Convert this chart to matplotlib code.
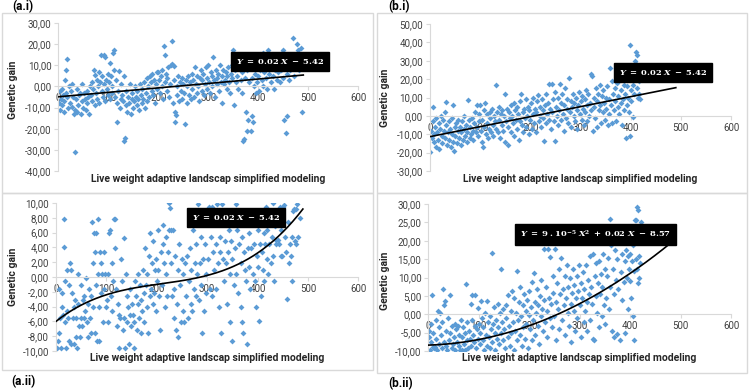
import numpy as np
import matplotlib
matplotlib.use('Agg')
import matplotlib.pyplot as plt
from matplotlib.patches import Rectangle

plt.rcParams['font.family'] = ['Liberation Sans Narrow', 'Roboto', 'DejaVu Sans']
plt.rcParams['mathtext.fontset'] = 'dejavuserif'

# (x, y) points
ai_points = [(2,-8),(3,-11),(4,-2),(5,-6),(7,-9),(8,-1),(10,-4),(11,-12),(12,-7),(14,3),(15,7.7),(16,-3),(17,13.2),(18,-5),(20,-10),(22,0),(24,-8),(25,-2),(27,1),(28,-9.5),(30,-5),(31,-13),(33,-11),(34,-31),(35,-6),(37,-12),(38,-1),(40,-9),(42,-4),(43,-3),(45,-13),(47,1),(48,-7),(50,-10),
    (52,-3),(53,-6),(55,-11),(57,-2),(58,-8),(60,-5),(62,-13),(63,0),(65,-4),(67,-7),(68,2),(70,-1),(72,7.7),(73,-9),(74,5.4),(75,-3),(77,3),(78,-6),(80,0),(81,7),(82,-8),(84,2),(86,14.8),(87,-2),(88,5),(90,-5),(91,15),(92,1),(93,14),(94,-7),(96,3),(97,-1),(99,6),
    (100,-4),(101,2),(103,11),(104,-6),(105,5),(107,0),(108,-3),(110,15.6),(111,17),(112,8),(113,-5),(115,3),(117,-16.7),(118,-8),(120,-2),(121,7.5),(123,-10),(125,-6),(126,1),(128,-4),(130,-7),(131,-25.9),(132,5),(134,-24.6),(135,-9),(136,-2),(138,-12),(140,-5),(142,-8),(143,1),(145,-13),(147,-6),(148,-3),(150,-10),
    (152,-7),(153,0),(155,-5),(157,-9),(158,-2),(160,-6),(162,-11),(163,1),(165,-4),(167,-8),(168,-1),(170,-6),(172,2),(173,-10),(175,-3),(177,4),(178,-7),(180,0),(182,-5),(183,5),(185,2),(187,-2),(188,6),(190,-4),(192,3),(193,-8),(195,1),(197,7),(198,-1),(200,7),
    (202,3),(203,-3),(205,5),(207,0),(208,8),(210,-6),(212,19.2),(213,14.8),(214,2),(215,6),(217,-2),(218,4),(220,9),(222,-5),(223,1),(225,10),(227,10.4),(228,21.5),(230,-8),(231,9.8),(232,3),(233,-16.7),(234,-12),(235,-13.6),(237,-4),(238,0),(240,5),(242,-7),(243,2),(245,-2),(247,4),(248,-6),(250,1),(253,-18),
    (252,-3),(255,3),(257,-8),(258,0),(260,5),(262,-4),(264,2),(265,-6),(267,6),(268,-1),(270,3),(272,-5),(273,9),(275,1),(277,-3),(278,5),(280,0),(282,-7),(283,4),(285,8),(287,-2),(288,3),(290,6),(292,-4),(293,1),(295,9),(297,-1),(298,4),(300,10),
    (302,2),(303,-3),(305,7),(307,0),(308,5),(310,14),(312,3),(313,-5),(315,8),(317,1),(318,4),(320,6),(322,-2),(323,10),(325,2),(327,-8),(328,5),(330,8),(332,1),(333,3),(335,7),(337,-1),(338,5),(340,9),(342,2),(343,-3),(345,6),(347,10),(348,4),(350,17),(352,-9),
    (353,8),(355,2),(357,12),(358,5),(360,-1),(362,9),(363,14),(365,3),(367,7),(368,-3),(370,-26),(372,-25),(373,4),(375,-12),(377,8),(378,-21),(380,-16),(382,2),(383,10),(385,-21),(387,-14),(388,4),(390,-17),(392,0),(393,6),(395,-3),(397,12),(398,2),(400,5),
    (402,-2),(404,8),(405,14),(407,3),(409,16),(410,0),(412,7),(414,10),(415,4),(417,-1),(419,13),(420,17),(422,6),(424,11),(425,2),(427,9),(429,14),(430,5),(432,-1),(434,8),(436,12),(437,3),(439,7),(440,15),(442,10),(444,2),(445,8),(447,16),(449,4),(450,17),(452,-16),(454,9),(455,-22),(457,-14),(458,6),(460,12),(462,3),(464,8),(466,15),(468,10),(470,23),(472,5),(474,12),(476,9),(478,20),(480,17),(482,8),(484,14),(485,18),(487,-12),(488,10)]

bi_points = [(0,-19.5),(2,-8),(3,-12),(5,-3),(6,5),(7,-14),(8,-10),(10,-6),(11,-17),(12,-1),(14,-9),(15,-13),(17,-4),(18,-18),(20,-7),(21,0),(23,-11),(24,-15),(26,-2),(27,-8),(29,-12),(30,2),(31,7.7),(32,-5),(34,-16),(35,-9),(37,-3),(38,-13),(40,-7),(41,-17),(43,-1),(44,-10),(45,5.9),(46,-14),(48,-19),(49,-6),(50,-11),
    (52,-4),(53,-15),(55,-8),(56,-2),(58,-12),(59,-6),(61,-16),(62,-9),(64,-3),(65,-13),(67,-7),(68,0),(70,-11),(71,-5),(73,-14),(74,-9),(76,8.6),(77,-2),(79,-12),(80,-6),(82,-10),(83,-1),(85,-8),(86,-13),(88,-4),(89,2),(91,-9),(93,5.9),(94,-6),(95,-11),(97,1),(98,-3),(100,5.9),
    (101,-8),(103,-14),(104,-2),(106,-17),(107,3),(108,-6),(110,6.8),(111,-10),(113,-4),(114,1),(116,-12),(117,-7),(119,2),(120,-1),(122,-9),(123,4),(125,-5),(126,-11),(128,0),(129,-3),(131,17),(132,-7),(134,2),(135,-9),(137,5),(138,-2),(140,-12),(141,1),(143,-5),(144,3),(146,-8),(147,0),(149,-14),(150,12),
    (152,-3),(153,4),(155,-16),(156,-6),(158,2),(159,-1),(161,6),(162,-9),(164,0),(165,-4),(167,7),(168,-11),(170,3),(171,-2),(173,-7),(174,5),(176,1),(177,-13),(179,-3),(180,8),(182,12),(183,-5),(185,2),(186,-9),(188,4),(189,-1),(191,9),(192,-6),(194,0),(195,5),(197,-10),(198,3),(200,-2),
    (202,7),(203,-7),(205,1),(206,10),(208,-4),(209,4),(211,-9),(212,2),(214,8),(216,11.3),(217,-3),(219,5),(220,0),(222,-6),(223,9),(225,3),(226,-1),(228,-13.7),(229,6),(231,-4),(232,12),(234,1),(235,7),(237,-2),(238,17.6),(240,4),(241,-7),(243,17.6),(244,2),(246,9),(247,-3),(249,13),(250,-13.7),
    (252,5),(253,0),(255,10),(256,-5),(258,3),(259,17.6),(261,7),(262,-2),(264,12),(265,1),(267,-8),(268,6),(270,15),(271,-1),(273,4),(274,9),(276,-4),(278,20.7),(279,2),(281,8),(282,-6),(284,5),(285,12),(287,0),(288,7),(290,-3),(291,10),(293,3),(294,-7),(296,6),(297,13),(299,1),(300,8),
    (302,-2),(303,11),(305,4),(306,-5),(308,9),(309,2),(310,14),(312,6),(313,-3),(315,12),(316,0),(318,7),(320,22.6),(321,3),(323,21.7),(324,-8),(326,10),(327,5),(329,-1),(330,15),(332,8),(333,-6),(335,12),(336,3),(338,17),(339,6),(341,-4),(342,11),(344,2),(345,14),(347,7),(348,-2),(350,10),
    (351,4),(353,16),(354,-5),(356,9),(357,1),(359,25.9),(360,6),(362,19),(363,-4),(365,12),(366,3),(368,15),(369,8),(371,-3),(372,18),(374,5),(375,11),(377,1),(378,20),(380,7),(381,14),(383,-5),(384,9),(386,17),(387,3),(389,12),(390,-12),(392,6),(393,16),(395,10),(396,2),(398,38.5),(399,-11),(400,14),(401,8),(403,20),(404,-0.5),(405,17),(406,12),(408,30),(409,23),(410,28),(411,35),(412,15),(413,33),(414,10),(415,26),(416,19),(417,12),(418,9),(419,22)]

aii_points = [(2,-9.6),(3,-8.6),(5,-1.6),(6,-7.6),(8,-5.6),(10,-9.6),(11,-4.1),(12,-2.1),(14,-5.1),(15,7.9),(16,4.0),(17,-6.1),(18,-0.6),(20,-9.6),(21,0.9),(22,-4.6),(24,-5.6),(25,-1.1),(26,-8.6),(28,1.9),(29,-9.1),(30,0.9),(32,-2.1),(33,-5.6),(35,-4.1),(36,-9.1),(38,-3.1),(39,-8.1),(40,-5.6),(41,-9.6),(43,0.4),(44,-3.6),(46,-6.6),(47,-8.1),(49,-5.6),(50,-1.1),
    (52,-6.6),(53,-3.1),(55,-5.6),(56,-2.6),(58,-4.6),(60,-0.1),(61,-6.1),(63,-3.6),(64,-8.1),(66,-1.6),(67,-5.6),(69,-2.6),(70,-7.6),(72,7.4),(73,-4.1),(74,1.9),(76,5.9),(77,-7.6),(78,3.4),(79,-1.1),(80,5.9),(81,-8.6),(83,7.9),(84,0.4),(85,-4.1),(86,-8.6),(88,3.4),(89,-2.1),(90,1.9),(92,0.4),(93,-6.1),(95,3.4),(96,-1.6),(98,0.4),(99,-4.1),
    (101,-3.1),(103,0.4),(104,-6.1),(106,5.9),(108,6.3),(109,-2.6),(111,1.9),(112,-4.6),(114,-0.6),(115,7.9),(117,7.9),(118,3.9),(120,-1.6),(121,-6.6),(123,-3.6),(125,-5.1),(126,-9.6),(128,-5.6),(130,2.4),(131,-0.6),(133,-7.1),(134,5.3),(135,-5.6),(137,-9.6),(139,0.4),(140,-2.6),(141,-6.1),(143,-4.1),(144,-9.1),(146,-5.1),(147,-1.6),(149,-6.6),(150,-3.6),
    (152,-5.1),(154,-9.6),(155,-6.1),(157,-0.6),(158,-2.6),(160,-7.1),(162,-3.6),(163,0.4),(165,-5.6),(166,-1.1),(168,-7.6),(169,-3.1),(171,-4.6),(172,0.9),(174,-2.1),(175,-6.1),(177,3.9),(178,-1.1),(180,-4.1),(181,0.4),(183,-7.6),(184,2.9),(186,-2.6),(187,5.9),(189,-1.6),(190,1.9),(192,-3.6),(193,4.9),(195,-2.1),(196,0.9),(198,-4.6),(199,2.4),(200,-0.6),
    (202,6.3),(203,0.9),(205,-2.6),(207,-7.2),(208,3.4),(210,-1.1),(212,4.4),(213,7.0),(215,1.9),(216,-4.1),(218,5.4),(219,0.4),(221,-2.6),(222,3.4),(224,6.3),(225,10.0),(226,9.3),(228,6.3),(229,1.9),(231,-2.6),(232,6.3),(234,-5.6),(235,-1.6),(237,2.9),(239,-7.2),(240,-3.6),(242,0.9),(243,-8.1),(245,4.4),(247,-1.1),(248,-6.1),(250,2.4),
    (252,-4.6),(253,0.4),(255,-6.1),(257,1.9),(258,-2.6),(260,2.9),(262,-5.6),(263,-0.6),(265,3.9),(267,-3.6),(268,0.9),(270,-4.6),(272,6.3),(273,-1.6),(275,1.9),(277,-2.6),(278,4.4),(280,0.4),(282,9.9),(283,-3.1),(285,1.9),(287,5.4),(288,-1.1),(290,-7.6),(292,2.4),(293,-4.6),(295,4.4),(297,0.4),(298,-2.1),(300,8.4),
    (302,2.4),(304,9.5),(305,-1.6),(307,5.4),(309,9.5),(310,-2.6),(312,3.4),(313,0.9),(315,7.4),(317,-1.6),(318,4.4),(320,9.9),(321,1.9),(323,-4.1),(325,5.4),(326,3.4),(328,-7.6),(330,9.9),(331,2.4),(333,-0.6),(335,4.9),(336,7.9),(338,1.9),(340,-3.6),(341,3.4),(343,6.3),(345,0.4),(346,-6.1),(348,4.9),(349,-8.6),(350,2.4),
    (352,7.4),(354,-1.1),(355,3.9),(357,9.9),(358,0.4),(360,6.3),(362,-2.1),(363,4.4),(365,8.9),(367,-4.1),(368,1.9),(369,-6.1),(370,5.4),(372,-7.6),(374,3.4),(375,0.9),(377,7.4),(378,-0.6),(379,-9.1),(381,3.9),(383,5.9),(384,1.4),(386,-1.6),(388,3.9),(389,8.4),(391,0.4),(393,4.4),(395,-0.6),(397,-4.1),(398,2.9),(400,6.3),
    (401,1.4),(403,-6.0),(404,4.4),(406,-2.6),(407,8.9),(409,3.4),(410,0.9),(412,5.9),(413,-0.6),(415,4.4),(416,9.4),(418,2.4),(419,6.3),(421,0.4),(423,4.4),(424,7.4),(426,1.9),(428,5.4),(430,10.0),(431,2.9),(433,-0.6),(434,6.9),(436,4.4),(437,5.0),(439,8.4),(440,5.0),(442,4.4),(444,9.4),(446,2.9),(447,6.3),(449,2.9),(451,9.4),(453,9.7),(455,5.4),(457,3.4),(459,-3.0),(460,7.4),(462,1.9),(464,4.4),(466,2.9),(468,-0.6),(469,5.4),(471,8.9),(473,9.2),(474,4.9),(476,4.4),(477,9.2),(479,9.9),(480,5.4),(485,8.0)]

bii_points = [(1,-6.1),(2,-4.6),(3,-9.6),(5,-2.6),(6,-7.6),(7,5.3),(9,-8.9),(10,-5.1),(12,-9.1),(13,-8.8),(15,-1.6),(16,-6.6),(18,-9.6),(19,1.0),(21,-3.6),(22,-8.1),(24,0.4),(25,-5.6),(27,-9.1),(28,-2.1),(30,7.0),(31,-7.6),(32,2.5),(33,3.6),(35,-8.6),(36,-4.6),(38,-9.6),(39,-1.1),(41,-7.1),(43,5.3),(44,-5.1),(46,-9.1),(47,-3.1),(49,-8.1),(50,-6.1),
    (52,-2.6),(53,-9.6),(55,-4.1),(56,-7.6),(58,-3.1),(60,-8.6),(61,-5.6),(63,-9.6),(64,-1.6),(66,-9.7),(67,-6.1),(69,-3.6),(70,-8.1),(72,-5.1),(73,-9.7),(74,8.2),(76,-7.1),(77,-2.1),(79,-9.1),(80,-4.6),(82,-6.6),(84,2.7),(85,-8.6),(86,5.3),(87,-1.6),(89,-5.6),(90,-7.6),(92,-3.1),(93,5.3),(95,-9.1),(96,-4.1),(98,1.6),(99,-6.6),(100,-2.6),
    (102,-8.1),(103,-5.1),(105,3.6),(106,-1.1),(108,-7.1),(109,-3.6),(111,-9.6),(112,0.4),(114,-5.6),(116,3.6),(117,-8.6),(119,-2.1),(120,-6.1),(122,-9.1),(123,-0.6),(124,-4.1),(126,16.8),(127,-7.6),(129,-2.6),(130,1.9),(132,-5.1),(133,-9.6),(135,-1.6),(136,-6.6),(138,2.9),(139,-3.6),(141,-8.1),(142,0.4),(144,-5.1),(145,12.4),(146,-2.1),(148,-7.1),(149,1.4),
    (151,-4.1),(152,-9.1),(154,2.4),(155,-1.1),(157,-6.1),(158,5.3),(160,-3.1),(161,-8.6),(163,0.9),(164,-5.1),(166,6.3),(167,-2.1),(169,-9.6),(170,4.4),(172,-4.6),(173,0.4),(175,-7.1),(176,11.8),(178,-1.6),(179,3.4),(181,-5.6),(182,7.4),(184,-0.6),(185,-8.6),(187,2.4),(188,-3.6),(190,5.4),(191,-6.6),(193,0.9),(194,-2.6),(196,3.9),(197,-9.1),(199,-0.1),(200,6.3),
    (202,-4.1),(203,1.9),(205,-7.1),(206,8.9),(208,-1.6),(209,11.2),(211,3.4),(212,-5.6),(214,0.4),(215,6.9),(217,-3.1),(218,2.4),(220,-8.1),(221,4.9),(223,-0.6),(224,9.4),(226,1.4),(227,-4.6),(229,17.8),(230,3.9),(232,-2.1),(233,7.4),(235,0.9),(236,-6.1),(238,17.8),(239,4.4),(241,-1.1),(242,15.7),(244,2.9),(245,-3.6),(247,10.4),(248,5.9),(250,-0.6),
    (251,17.8),(253,3.4),(254,-7.1),(256,8.4),(257,1.4),(259,-4.1),(260,12.4),(262,5.4),(264,15.3),(265,-1.6),(267,6.9),(268,2.4),(270,10.4),(271,-5.6),(273,4.4),(274,13.4),(276,0.4),(277,7.4),(279,-3.1),(280,9.9),(282,2.9),(283,-7.6),(285,5.9),(286,12.4),(288,0.9),(289,7.9),(291,-4.6),(292,4.4),(294,10.4),(295,-1.1),(297,6.4),(298,13.4),(300,2.4),
    (302,-6.1),(303,8.4),(305,4.4),(306,11.4),(308,-2.1),(309,6.9),(311,0.9),(312,13.4),(314,3.4),(315,-4.6),(317,9.4),(318,5.4),(320,15.9),(321,-1.6),(323,7.4),(324,2.9),(326,16.4),(327,-6.6),(329,-7.0),(330,10.4),(332,4.9),(333,13.9),(335,0.4),(336,8.4),(338,-3.6),(339,14.4),(341,5.4),(342,10.9),(344,-0.6),(345,7.4),(347,16.4),(348,2.4),(350,12.4),
    (351,-2.6),(353,4.4),(355,10.4),(356,15.4),(358,1.4),(360,25.9),(361,7.4),(363,18.9),(364,-4.6),(366,12.4),(368,-6.3),(369,5.4),(371,17.4),(372,9.4),(374,14.9),(375,-5.4),(377,6.9),(378,20.4),(380,-7.1),(381,11.4),(383,16.4),(384,3.9),(386,23.4),(387,8.9),(389,-5.0),(390,14.4),(392,17.4),(393,9.9),(395,1.4),(396,15.9),(398,12.4),(399,9.1),(400,16.4),(402,4.4),(403,14.4),(405,-0.6),(406,18.9),(407,-7.0),(408,11.9),(409,21.4),(410,25.7),(411,14.9),(412,25.7),(413,12.4),(414,29.3),(415,8.4),(416,28.4),(417,15.9),(418,9.9),(420,13.9),(421,25.2)]

# trend line coefficients (lowest order first), as drawn
ai_trend = [-4.9, 0.021]
bi_trend = [-11.3, 0.0544]
aii_trend = [-6.0, 0.0537, -2.105e-4, 3.35e-7]
bii_trend = [-8.4, 0.004, 1.12e-4]

ai_yticks = [-40, -30, -20, -10, 0, 10, 20, 30]
bi_yticks = [-30, -20, -10, 0, 10, 20, 30, 40, 50]
aii_yticks = [-10, -8, -6, -4, -2, 0, 2, 4, 6, 8, 10]
bii_yticks = [-10, -5, 0, 5, 10, 15, 20, 25, 30]
xticks = [0, 100, 200, 300, 400, 500, 600]

lin_eq = r"$\mathbfit{Y}\mathbf{\ =\ 0.02\ }\mathbfit{X}\mathbf{\ -\ 5.42}$"
quad_eq = r"$\mathbfit{Y}\mathbf{\ =\ 9\ .10^{-5}\ }\mathbfit{X}^\mathbf{2}\mathbf{\ +\ 0.02\ }\mathbfit{X}\mathbf{\ -\ 8.57}$"

W, H = 750, 390
fig = plt.figure(figsize=(7.5, 3.9), dpi=100)

def px_rect(l, t, r, b):
    return [l / W, 1 - b / H, (r - l) / W, (b - t) / H]

# panel frames
for l, t, r, b in [(2, 13, 373, 193), (377, 13, 747, 193), (2, 193, 373, 370), (377, 193, 747, 373)]:
    fig.patches.append(Rectangle((l / W, 1 - b / H), (r - l) / W, (b - t) / H,
                                 transform=fig.transFigure, fill=False, ec='#d9d9d9', lw=1))

for txt, x, y in [("(a.i)", 12, 7), ("(b.i)", 388, 7), ("(a.ii)", 11, 382), ("(b.ii)", 388, 384)]:
    fig.text(x / W, 1 - y / H, txt, fontsize=8.5, fontweight='bold', va='center', ha='left')

def panel(rect, pts, coefs, yticks, eq, eq_pos, ylab_pos, xlab_y):
    ax = fig.add_axes(px_rect(*rect))
    pts = np.array(pts)
    ax.scatter(pts[:, 0], pts[:, 1], marker='D', s=9, color='#5B9BD5', linewidths=0, zorder=2)
    xs = np.linspace(0, 490, 200)
    ax.plot(xs, np.polynomial.polynomial.polyval(xs, coefs), color='black', lw=1.2, zorder=3)
    ax.set_xlim(0, 600)
    ax.set_ylim(yticks[0], yticks[-1])
    ax.set_xticks(xticks)
    ax.set_yticks(yticks)
    ax.set_yticklabels([f"{v:.2f}".replace('.', ',') for v in yticks])
    for s in ['top', 'right']:
        ax.spines[s].set_visible(False)
    ax.spines['bottom'].set_position(('data', 0))
    ax.spines['bottom'].set_color('#d9d9d9')
    ax.spines['left'].set_color('#d9d9d9')
    ax.tick_params(axis='both', labelsize=7, colors='#d9d9d9', labelcolor='#404040', length=3, width=0.8, pad=2)
    ax.set_facecolor('none')
    ax.text(0.5, xlab_y, "Live weight adaptive landscap simplified modeling", transform=ax.transAxes,
            ha='center', va='center', fontsize=7.5, fontweight='bold', color='#262626')
    ax.set_ylabel("Genetic gain", fontsize=7.5, fontweight='bold', color='#262626')
    ax.yaxis.set_label_coords(*ylab_pos)
    ax.text(eq_pos[0], eq_pos[1], eq, transform=ax.transAxes, ha='center', va='center',
            fontsize=6, color='white', zorder=5,
            bbox=dict(boxstyle='square,pad=0.6', fc='black', ec='black'))
    return ax

panel((58.3, 23, 358.3, 171), ai_points, ai_trend, ai_yticks, lin_eq, (0.739, 0.743), (-0.135, 0.55), -0.055)
panel((430, 24, 731, 171), bi_points, bi_trend, bi_yticks, lin_eq, (0.774, 0.670), (-0.133, 0.5), -0.055)
panel((56, 203, 358.3, 351), aii_points, aii_trend, aii_yticks, lin_eq, (0.594, 0.899), (-0.127, 0.5), -0.047)
panel((428.3, 204, 731, 351), bii_points, bii_trend, bii_yticks, quad_eq, (0.552, 0.793), (-0.127, 0.48), -0.047)

fig.savefig("out.png", dpi=100)
